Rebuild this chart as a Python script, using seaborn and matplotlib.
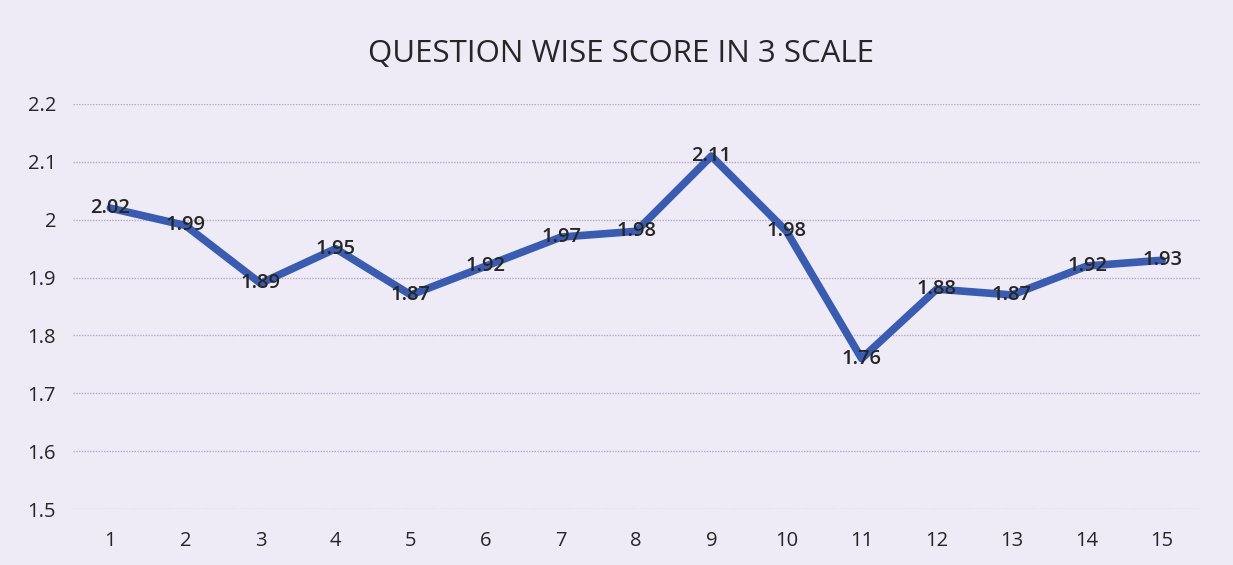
import numpy as np
import pandas as pd
import matplotlib
matplotlib.use('Agg')
import matplotlib.pyplot as plt
import seaborn as sns

questions = list(range(1, 16))
scores = [2.02, 1.99, 1.89, 1.95, 1.87, 1.92, 1.97, 1.98, 2.11, 1.98, 1.76, 1.88, 1.87, 1.92, 1.93]
y_ticks = [1.5, 1.6, 1.7, 1.8, 1.9, 2.0, 2.1, 2.2]
y_tick_labels = ['1.5', '1.6', '1.7', '1.8', '1.9', '2', '2.1', '2.2']

df = pd.DataFrame({'q': questions, 'score': scores})

sns.set_theme(style='white')
plt.rcParams['font.family'] = ['Open Sans', 'DejaVu Sans']

bg = '#EEEAF6'
fig = plt.figure(figsize=(12.33, 5.65), dpi=100, facecolor=bg)
ax = fig.add_axes([0.059, 0.099, 0.914, 0.717], facecolor=bg)

# dotted gridlines like the scan
for t in y_ticks:
    ax.axhline(t, color='#B9A6C4', lw=1.0, ls=(0, (1, 1)), zorder=0)

sns.lineplot(data=df, x='q', y='score', ax=ax, color='#3A5CB0', lw=5.5,
             solid_capstyle='round', solid_joinstyle='round', zorder=3)

for q, s in zip(questions, scores):
    ax.text(q, s, f'{s:g}', ha='center', va='center', fontsize=14.5,
            fontweight='semibold', color='#262626', zorder=4)

ax.set_xlim(0.5, 15.5)
ax.set_ylim(1.5, 2.2)
ax.set_xticks(questions)
ax.set_xticklabels([str(q) for q in questions], fontsize=14.5, color='#262626')
ax.set_yticks(y_ticks)
ax.set_yticklabels(y_tick_labels, fontsize=14.5, color='#262626')
ax.tick_params(axis='y', length=0, pad=12)
ax.tick_params(axis='x', length=0, pad=16)
ax.set_xlabel('')
ax.set_ylabel('')
for sp in ax.spines.values():
    sp.set_visible(False)

fig.text(0.504, 0.905, 'QUESTION WISE SCORE IN 3 SCALE', ha='center', va='center',
         fontsize=22.5, color='#262626')

fig.savefig('out.png', dpi=100, facecolor=bg)
